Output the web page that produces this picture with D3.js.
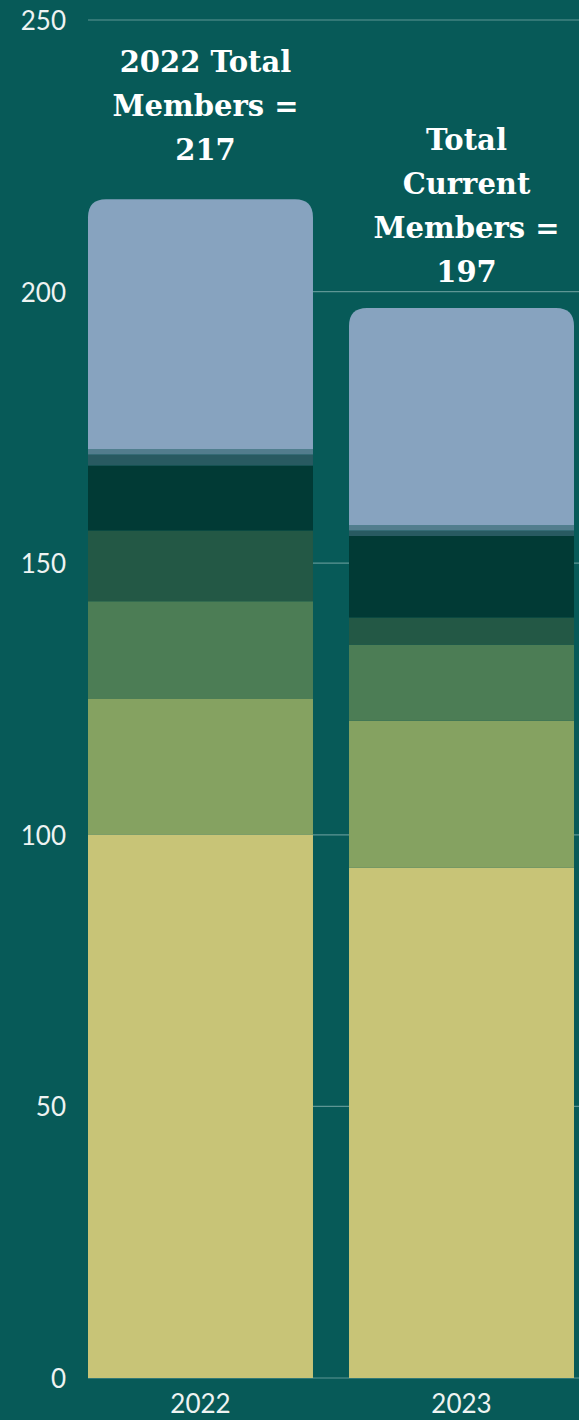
<!DOCTYPE html>
<html>
<head>
<meta charset="utf-8">
<script src="https://cdn.jsdelivr.net/npm/d3@7"></script>
<style>
	body { margin:0; background:#075a58; }
	svg { display:block; }
</style>
</head>
<body>
<div id="chart"></div>
<script>
var years = ["2022", "2023"];
var groups = ["g1", "g2", "g3", "g4", "g5", "g6", "g7", "g8"];
var colors = ["#c8c477", "#85a261", "#4c7d55", "#235845", "#013a35", "#285a61", "#527d8d", "#87a3bf"];
var values2022 = [100, 25, 18, 13, 12, 2, 1, 46];
var values2023 = [94, 27, 14, 5, 15, 1, 1, 40];
var yTicks = [0, 50, 100, 150, 200, 250];
var totalLabels = [["2022 Total", "Members =", "217"], ["Total", "Current", "Members =", "197"]];

var width = 579, height = 1420;

var rows = years.map(function(y, i) {
	var r = {year: y};
	var v = i == 0 ? values2022 : values2023;
	groups.forEach(function(g, j) { r[g] = v[j]; });
	return r;
});

var svg = d3.select("#chart").append("svg")
	.attr("width", width)
	.attr("height", height);

var x = d3.scaleBand().domain(years).range([88, 574]).paddingInner(0.138);
var y = d3.scaleLinear().domain([0, 250]).range([1378, 20]);

// grid
svg.append("g").selectAll("line")
	.data(yTicks)
	.enter().append("line")
	.attr("x1", 88)
	.attr("x2", width)
	.attr("y1", function(d) { return y(d); })
	.attr("y2", function(d) { return y(d); })
	.attr("stroke", "#5e9694")
	.attr("stroke-width", 1.2);

svg.append("g").selectAll("text")
	.data(yTicks)
	.enter().append("text")
	.attr("x", 66)
	.attr("y", function(d) { return y(d); })
	.attr("text-anchor", "end")
	.attr("dominant-baseline", "central")
	.attr("fill", "#eef3f2")
	.style("font-family", "Lato, 'DejaVu Sans', sans-serif")
	.style("font-size", "26px")
	.text(function(d) { return d; });

var series = d3.stack().keys(groups)(rows);
var r = 18;

series.forEach(function(s, k) {
	var last = k == series.length - 1;
	svg.append("g").attr("fill", colors[k]).selectAll("path")
		.data(s)
		.enter().append("path")
		.attr("d", function(d) {
			var x0 = x(d.data.year), x1 = x0 + x.bandwidth();
			var y0 = y(d[0]), y1 = y(d[1]);
			if(!last)
				return "M"+x0+","+y0+"V"+y1+"H"+x1+"V"+y0+"Z";
			return "M"+x0+","+y0+"V"+(y1+r)+"Q"+x0+","+y1+" "+(x0+r)+","+y1
				+"H"+(x1-r)+"Q"+x1+","+y1+" "+x1+","+(y1+r)+"V"+y0+"Z";
		});
});

// total labels
var tops = [values2022, values2023].map(function(v) { return d3.sum(v); });
var gaps = [39, 26];
totalLabels.forEach(function(lines, i) {
	var cx = x(years[i]) + x.bandwidth() / 2 + 5;
	var base = y(tops[i]) - gaps[i] - (lines.length - 1) * 44;
	svg.append("g").selectAll("text")
		.data(lines)
		.enter().append("text")
		.attr("x", cx)
		.attr("y", function(d, j) { return base + j * 44; })
		.attr("text-anchor", "middle")
		.attr("fill", "#ffffff")
		.style("font-family", "'DejaVu Serif', serif")
		.style("font-weight", "bold")
		.style("font-size", "29px")
		.text(function(d) { return d; });
});

svg.append("g").selectAll("text")
	.data(years)
	.enter().append("text")
	.attr("x", function(d) { return x(d) + x.bandwidth() / 2; })
	.attr("y", 1413)
	.attr("text-anchor", "middle")
	.attr("fill", "#eef3f2")
	.style("font-family", "Lato, 'DejaVu Sans', sans-serif")
	.style("font-size", "26px")
	.text(function(d) { return d; });
</script>
</body>
</html>
